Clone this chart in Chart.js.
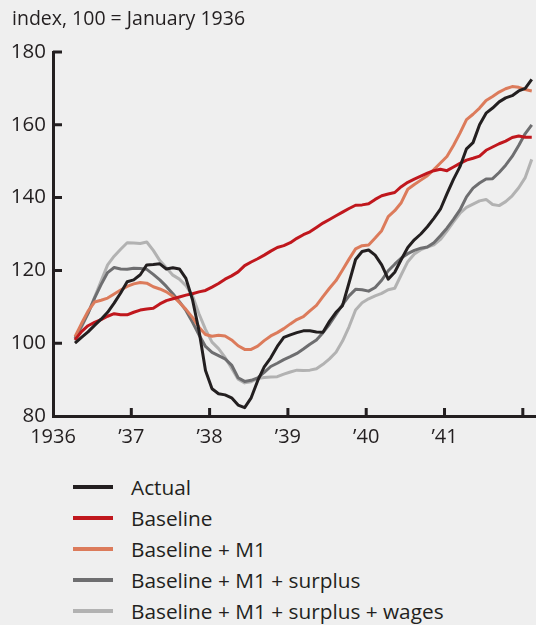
<!DOCTYPE html>
<html>
<head>
<meta charset="utf-8">
<script src="https://cdn.jsdelivr.net/npm/chart.js@4.4.0/dist/chart.umd.min.js"></script>
<style>
  body { margin: 0; background: #efefef; font-family: "Open Sans", sans-serif; color: #231f20; }
  #wrap { position: relative; width: 536px; height: 625px; }
  #title { position: absolute; left: 12px; top: 4px; font-size: 19.5px; }
  #legend { position: absolute; left: 73px; top: 471px; }
  .item { display: flex; align-items: center; height: 31px; font-size: 20.8px; }
  .swatch { width: 40px; height: 4px; margin-right: 18px; }
</style>
</head>
<body>
<div id="wrap">
  <canvas id="myChart" width="536" height="460"></canvas>
  <div id="title">index, 100 = January 1936</div>
  <div id="legend"></div>
</div>
<script>
// monthly, starting January 1936
var seriesNames = ['Actual', 'Baseline', 'Baseline + M1', 'Baseline + M1 + surplus', 'Baseline + M1 + surplus + wages'];
var seriesColors = ['#231f20', '#c0171d', '#dc7b5b', '#6e6e70', '#b2b2b2'];

var actual = [100, 101.6, 103.1, 104.9, 106.6, 108.5, 111, 113.8, 116.9, 117.4,
  118.8, 121.5, 121.6, 121.8, 120.4, 120.7, 120.4, 117.8, 112, 103.5,
  92.5, 87.5, 86.1, 85.8, 85, 83, 82.3, 85, 89.7, 93.5,
  96, 99.1, 101.6, 102.3, 102.9, 103.4, 103.4, 103.1, 103, 106,
  108.5, 110.3, 116.6, 123, 125.2, 125.6, 124.2, 121.5, 117.6, 119.5,
  123, 126.3, 128.4, 130, 132, 134.3, 136.8, 141, 145, 148.5,
  153.4, 155.1, 160, 163.2, 164.6, 166.3, 167.4, 168, 169.3, 170, 172.5];
var baseline = [100.9, 103.2, 104.8, 105.7, 106.5, 107.4, 108.1, 107.8, 107.8, 108.5,
  109.1, 109.4, 109.6, 110.8, 111.7, 112.2, 112.7, 113.2, 113.6, 114.1,
  114.5, 115.4, 116.4, 117.6, 118.5, 119.6, 121.3, 122.3, 123.2, 124.2,
  125.3, 126.3, 126.8, 127.6, 128.8, 129.8, 130.6, 131.8, 133, 134,
  135, 136, 137, 137.9, 138, 138.3, 139.5, 140.5, 141, 141.4,
  143, 144.2, 145.1, 145.9, 146.7, 147.4, 147.8, 147.4, 148.4, 149.4,
  150.3, 150.8, 151.4, 153, 153.9, 154.8, 155.5, 156.5, 156.9, 156.6, 156.6];
var baselineM1 = [101.8, 105.4, 108.8, 111.3, 111.8, 112.4, 113.5, 114.6, 115.6, 116.3,
  116.7, 116.5, 115.5, 114.9, 114.1, 112.9, 111.2, 109.3, 107.1, 104.4,
  102.4, 101.9, 102.2, 102, 100.9, 99.3, 98.3, 98.3, 99.2, 100.7,
  102, 102.9, 104, 105.3, 106.5, 107.3, 108.9, 110.4, 112.8, 115.1,
  117.2, 120.1, 123.1, 125.9, 126.8, 127, 128.9, 130.9, 134.8, 136.4,
  138.6, 142.3, 143.6, 144.8, 146, 147.7, 149.5, 151.3, 154.3, 157.7,
  161.4, 162.9, 164.6, 166.7, 167.8, 169, 169.9, 170.5, 170.3, 169.7, 169.3];
var baselineM1Surplus = [101.4, 104.7, 108.2, 112.4, 116.1, 119.4, 120.8, 120.4, 120.3, 120.6,
  120.5, 120.3, 118.9, 117.4, 115.6, 113.6, 111.4, 109, 105.8, 102.3,
  99.1, 97.5, 96.6, 95.7, 94, 90.5, 89.5, 89.8, 90.5, 92,
  93.6, 94.5, 95.5, 96.3, 97.2, 98.4, 99.7, 100.9, 102.9, 105.2,
  107.9, 110.6, 113, 114.8, 114.7, 114.3, 115.3, 117.3, 119.9, 121.7,
  123.4, 124.6, 125.5, 126.1, 126.4, 127.6, 129.5, 131.6, 134, 136.6,
  140.2, 142.6, 144, 145.1, 145.2, 146.9, 148.9, 151.3, 154.3, 157.6, 160];
var baselineM1SurplusWages = [100.7, 104.4, 108.2, 112.6, 117.1, 121.5, 123.9, 125.8, 127.6, 127.5,
  127.4, 127.8, 125.5, 122.7, 120.7, 118.7, 117.6, 115.8, 113.1, 108.1,
  103.8, 100.3, 98.5, 96.1, 93.1, 90.1, 89.1, 89.4, 90.3, 90.6,
  90.7, 90.8, 91.5, 92.1, 92.6, 92.5, 92.6, 93, 94.2, 95.7,
  97.5, 100.6, 104.5, 109.1, 111.1, 112.2, 113, 113.7, 114.7, 115.1,
  118.8, 122.4, 124.5, 125.7, 126.4, 127, 128.5, 130.8, 133.3, 135.7,
  137.3, 138.2, 139.1, 139.5, 138.1, 137.8, 138.9, 140.5, 142.7, 145.5, 150.5];

var yearLabels = ['1936', '\u201937', '\u201938', '\u201939', '\u201940', '\u201941', ''];
var yTicks = [80, 100, 120, 140, 160, 180];

var allSeries = [actual, baseline, baselineM1, baselineM1Surplus, baselineM1SurplusWages];
var ink = '#231f20';
var firstTick = -3.37;

function toPoints(arr) {
  return arr.map(function (v, i) { return { x: i, y: v }; });
}

var innerTicks = {
  id: 'innerTicks',
  afterDraw: function (chart) {
    var ctx = chart.ctx, a = chart.chartArea;
    var xs = chart.scales.x, ys = chart.scales.y;
    ctx.save();
    ctx.strokeStyle = ink;
    ctx.lineWidth = 3;
    ctx.beginPath();
    ys.ticks.forEach(function (t) {
      if (t.value === 80) return;
      var y = ys.getPixelForValue(t.value);
      ctx.moveTo(a.left, y);
      ctx.lineTo(a.left + 9, y);
    });
    xs.ticks.forEach(function (t, k) {
      if (k === 0) return;
      var x = xs.getPixelForValue(t.value);
      ctx.moveTo(x, a.bottom);
      ctx.lineTo(x, a.bottom - 8);
    });
    ctx.stroke();
    ctx.restore();
  }
};

var ctx = document.getElementById('myChart');
var myChart = new Chart(ctx, {
  type: 'line',
  data: {
    datasets: allSeries.map(function (s, k) {
      return {
        label: seriesNames[k],
        data: toPoints(s),
        borderColor: seriesColors[k],
        borderWidth: 3,
        borderJoinStyle: 'round',
        pointRadius: 0,
        tension: 0,
        fill: false
      };
    })
  },
  options: {
    responsive: false,
    animation: false,
    layout: { padding: { top: 52, right: 0, left: 0, bottom: 0 } },
    plugins: { legend: { display: false }, tooltip: { enabled: false } },
    scales: {
      x: {
        type: 'linear',
        min: firstTick,
        max: 70.65,
        afterBuildTicks: function (s) {
          s.ticks = yearLabels.map(function (l, k) { return { value: firstTick + 12 * k }; });
        },
        afterFit: function (s) { s.height = 44; },
        ticks: {
          autoSkip: false,
          maxRotation: 0,
          padding: 9,
          color: ink,
          font: { family: 'Open Sans', size: 20 },
          callback: function (v, i) { return yearLabels[i]; }
        },
        grid: { drawOnChartArea: false, drawTicks: false },
        border: { color: ink, width: 3 }
      },
      y: {
        min: 80,
        max: 180,
        afterBuildTicks: function (s) {
          s.ticks = yTicks.map(function (v) { return { value: v }; });
        },
        afterFit: function (s) { s.width = 53; },
        ticks: {
          padding: 7,
          color: ink,
          font: { family: 'Open Sans', size: 20.5 }
        },
        grid: { drawOnChartArea: false, drawTicks: false },
        border: { color: ink, width: 3 }
      }
    }
  },
  plugins: [innerTicks]
});

var legend = document.getElementById('legend');
myChart.data.datasets.forEach(function (d) {
  var row = document.createElement('div');
  row.className = 'item';
  var sw = document.createElement('span');
  sw.className = 'swatch';
  sw.style.background = d.borderColor;
  var txt = document.createElement('span');
  txt.textContent = d.label;
  row.appendChild(sw);
  row.appendChild(txt);
  legend.appendChild(row);
});
</script>
</body>
</html>
